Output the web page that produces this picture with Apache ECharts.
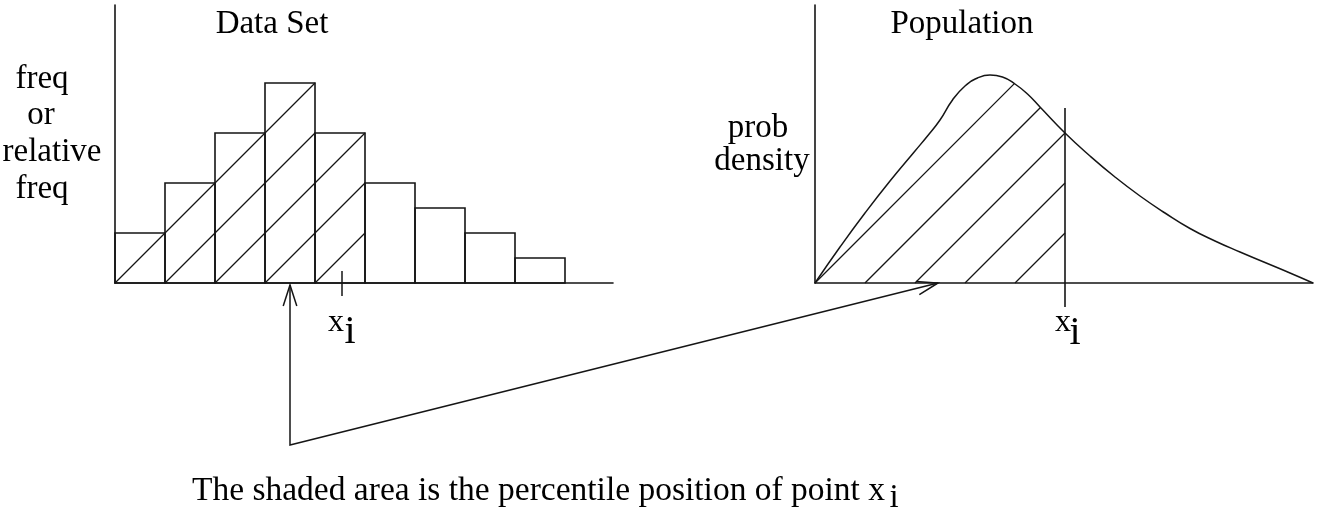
<!DOCTYPE html>
<html><head><meta charset="utf-8">
<script src="https://cdn.jsdelivr.net/npm/echarts@6/dist/echarts.min.js"></script>
<style>html,body{margin:0;padding:0;background:#fff}#c{width:1319px;height:511px}</style>
</head><body><div id="c"></div>
<script>
// ---------- data ----------
const binCounts = [2, 4, 6, 8, 6, 4, 3, 2, 1];          // histogram heights (data set)
const shadedBins = 5;                                    // bins hatched (below x_i)
const dataXi = 4.54;                                     // x_i on data-set axis (bin units)
const densityX = [0, 0.5, 1, 1.5, 2, 2.25, 2.5, 2.75, 3, 3.25, 3.5, 3.75, 4, 4.25, 4.5, 5, 5.5, 6, 6.5, 7, 7.5, 8, 8.5, 9, 9.5, 9.96];
const densityY = [0, 1.44, 2.8, 4.08, 5.28, 5.88, 6.52, 7.32, 7.88, 8.2, 8.32, 8.24, 7.96, 7.56, 7.04, 6.0, 5.08, 4.24, 3.48, 2.8, 2.18, 1.68, 1.24, 0.82, 0.4, 0];
const popXi = 5.0;                                       // x_i on population axis
const hatchOrigins = [0, 1, 2, 3, 4];                    // baseline starts of hatch lines
const arrowFromX = 3.5;                                  // arrow start (data-set axis)
const arrowToX = 2.5;                                    // arrow end (population axis)
const titles = ['Data Set', 'Population'];
const yLabelLeft = ['freq', 'or', 'relative', 'freq'];
const yLabelRight = ['prob', 'density'];
const caption = 'The shaded area is the percentile position of point x';

// ---------- layout / style ----------
const X_MAX = 9.96, Y_MAX = 11.12;
const INK = '#151515';
const FONT = "'Liberation Serif', 'Times New Roman', serif";
const chart = echarts.init(document.getElementById('c'), null, {renderer: 'canvas'});

function axisCfg(idx, max) {
  return {
    type: 'value', gridIndex: idx, min: 0, max: max,
    axisLine: {show: true, onZero: false, lineStyle: {color: INK, width: 1.6}},
    axisTick: {show: false}, axisLabel: {show: false}, splitLine: {show: false}
  };
}

const lineStyle = {color: INK, width: 1.5};

function rightHatch(params, api) {
  const pts = densityX.map((x, j) => api.coord([x, densityY[j]]));
  const xiPx = api.coord([popXi, 0])[0];
  const children = [];
  hatchOrigins.forEach(k => {
    const o = api.coord([k, 0]);
    const xs = o[0], yb = o[1];
    const ly = x => yb - (x - xs);
    let end = xiPx;
    for (let j = 0; j < pts.length - 1; j++) {
      const [ax, ay] = pts[j], [bx, by] = pts[j + 1];
      if (bx <= xs + 1) continue;
      const sa = Math.max(ax, xs + 1);
      const cya = ay + (by - ay) * (sa - ax) / (bx - ax);
      const f1 = ly(sa) - cya;
      const f2 = ly(bx) - by;
      if (f1 > 0 && f2 <= 0) {
        const t = f1 / (f1 - f2);
        end = Math.min(end, sa + (bx - sa) * t);
        break;
      }
    }
    if (end > xs + 0.5) {
      children.push({type: 'line', shape: {x1: xs, y1: yb, x2: end, y2: ly(end)},
        style: {stroke: INK, lineWidth: 1.3}});
    }
  });
  return {type: 'group', children};
}

const option = {
  animation: false,
  backgroundColor: '#fff',
  grid: [
    {left: 115, top: 5, width: 498, height: 278},
    {left: 815, top: 5, width: 498, height: 278}
  ],
  xAxis: [axisCfg(0, X_MAX), axisCfg(1, X_MAX)],
  yAxis: [axisCfg(0, Y_MAX), axisCfg(1, Y_MAX)],
  series: [
    {
      type: 'custom', xAxisIndex: 0, yAxisIndex: 0, clip: false,
      data: binCounts.map((h, i) => [i, h]),
      renderItem(params, api) {
        const i = api.value(0), h = api.value(1);
        const p0 = api.coord([i, 0]), p1 = api.coord([i + 1, h]);
        const x0 = p0[0], yb = p0[1], x1 = p1[0], yt = p1[1];
        const children = [{type: 'rect', shape: {x: x0, y: yt, width: x1 - x0, height: yb - yt},
          style: {fill: 'none', stroke: INK, lineWidth: 1.6}}];
        if (i < shadedBins) {
          hatchOrigins.forEach(k => {
            if (k >= shadedBins) return;
            const xs = api.coord([k, 0])[0];
            const a = Math.max(x0, xs), b = Math.min(x1, xs + (yb - yt));
            if (b > a + 0.5) children.push({type: 'line',
              shape: {x1: a, y1: yb - (a - xs), x2: b, y2: yb - (b - xs)},
              style: {stroke: INK, lineWidth: 1.3}});
          });
        }
        return {type: 'group', children};
      }
    },
    {
      type: 'line', xAxisIndex: 0, yAxisIndex: 0, clip: false, symbol: 'none',
      data: [[dataXi, 0.48], [dataXi, -0.52]], lineStyle: lineStyle
    },
    {
      type: 'line', xAxisIndex: 1, yAxisIndex: 1, symbol: 'none', smooth: 0.5, clip: false,
      data: densityX.map((x, j) => [x, densityY[j]]), lineStyle: lineStyle
    },
    {
      type: 'custom', xAxisIndex: 1, yAxisIndex: 1, clip: false,
      data: [[0, 0]], renderItem: rightHatch
    },
    {
      type: 'line', xAxisIndex: 1, yAxisIndex: 1, clip: false, symbol: 'none',
      data: [[popXi, 7.0], [popXi, -0.96]], lineStyle: {color: INK, width: 1.6}
    }
  ]
};
chart.setOption(option);

// ---------- annotations ----------
const txt = (s, x, baseline, size, align) => ({
  type: 'text', x: x, y: baseline - 0.3375 * size,
  style: {text: s, font: size + 'px ' + FONT, fill: '#000', align: align || 'center', verticalAlign: 'middle'}
});
const A = chart.convertToPixel({gridIndex: 0}, [arrowFromX, 0]);
const B = chart.convertToPixel({gridIndex: 0}, [arrowFromX, -6.48]);
const C = chart.convertToPixel({gridIndex: 1}, [arrowToX, 0]);
function head(tip, from, len, ang) {
  const dx = from[0] - tip[0], dy = from[1] - tip[1];
  const d = Math.hypot(dx, dy), ux = dx / d, uy = dy / d;
  const r = a => [tip[0] + len * (ux * Math.cos(a) - uy * Math.sin(a)), tip[1] + len * (ux * Math.sin(a) + uy * Math.cos(a))];
  return {type: 'polyline', shape: {points: [r(ang), tip, r(-ang)]}, style: {stroke: INK, lineWidth: 1.5, fill: null}};
}
const tipA = [A[0], A[1] + 2];
const tipC = [C[0] - 2, C[1]];
const xiL = chart.convertToPixel({gridIndex: 0}, [dataXi, 0]);
const xiR = chart.convertToPixel({gridIndex: 1}, [popXi, 0]);
chart.setOption({
  graphic: [
    txt(titles[0], 272, 35, 33),
    txt(titles[1], 962, 35, 33),
    txt(yLabelLeft[0], 42, 90, 33),
    txt(yLabelLeft[1], 41, 126, 33),
    txt(yLabelLeft[2], 52, 163, 33),
    txt(yLabelLeft[3], 42, 200, 33),
    txt(yLabelRight[0], 758, 139, 33),
    txt(yLabelRight[1], 762, 172, 33),
    txt('x', xiL[0] - 6, 333, 32),
    txt('i', xiL[0] + 8, 346, 40),
    txt('x', xiR[0] - 2, 333, 32),
    txt('i', xiR[0] + 10, 347, 40),
    txt(caption, 192, 503, 33.5, 'left'),
    txt('i', 894, 509, 33),
    {type: 'polyline', shape: {points: [tipA, B, tipC]}, style: {stroke: INK, lineWidth: 1.5, fill: null}},
    head(tipA, B, 22, 18 * Math.PI / 180),
    head(tipC, B, 22, 18 * Math.PI / 180)
  ]
});
</script>
</body></html>
